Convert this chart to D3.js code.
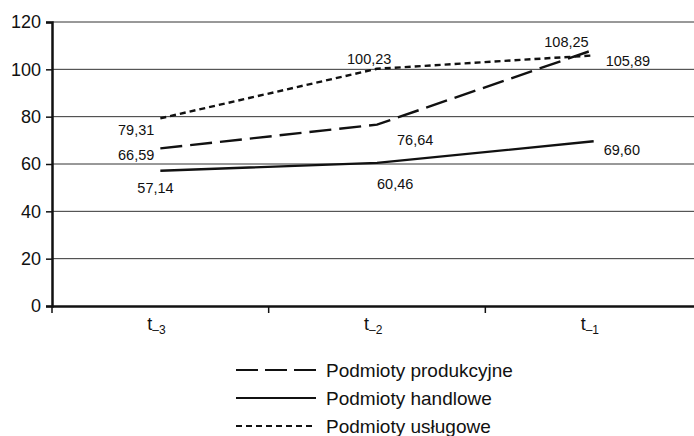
<!DOCTYPE html>
<html>
<head>
<meta charset="utf-8">
<script src="https://cdn.jsdelivr.net/npm/d3@7"></script>
<style>
  body { margin: 0; background: #fff; }
  text { font-family: "Liberation Sans", Arial, sans-serif; fill: #111; }
</style>
</head>
<body>
<svg id="chart" width="694" height="436"></svg>
<script>
// Data
var periods = ["-3", "-2", "-1"],
produkcyjne = [66.59, 76.64, 108.25],
handlowe = [57.14, 60.46, 69.60],
uslugowe = [79.31, 100.23, 105.89],
yTicks = [0, 20, 40, 60, 80, 100, 120],
seriesNames = ["Podmioty produkcyjne", "Podmioty handlowe", "Podmioty usługowe"];

// Layout (window.top is reserved, so plot* names)
var svg = d3.select("#chart"),
plotLeft = 52, plotRight = 702, plotTop = 22, plotBottom = 306;

var x = d3.scaleBand().domain(periods).range([plotLeft, plotRight]);
var y = d3.scaleLinear().domain([0, 120]).range([plotBottom, plotTop]);

var series = [
  {name: seriesNames[0], values: produkcyjne, dash: "22,8"},
  {name: seriesNames[1], values: handlowe, dash: null},
  {name: seriesNames[2], values: uslugowe, dash: "6,4"}
];

// label offsets (dx, dy, anchor) for each series / point
var labelPos = [
  [[-6, 8, "end"], [20, 17, "start"], [-5, -7, "end"]],
  [[-23, 18, "start"], [0, 22, "start"], [10, 10, "start"]],
  [[-6, 13, "end"], [-30, -9, "start"], [12, 7, "start"]]
];

// gridlines
svg.append("g").selectAll("line")
  .data(yTicks.filter(function(d){ return d > 0; }))
  .enter().append("line")
  .attr("x1", plotLeft).attr("x2", 694)
  .attr("y1", function(d){ return y(d); })
  .attr("y2", function(d){ return y(d); })
  .attr("stroke", "#333").attr("stroke-width", 1);

// y axis
var yAxis = svg.append("g")
  .attr("transform", "translate(" + plotLeft + ",0)")
  .call(d3.axisLeft(y).tickValues(yTicks).tickSize(6).tickPadding(5));
yAxis.select(".domain").attr("stroke", "#111").attr("stroke-width", 2.5);
yAxis.selectAll(".tick line").attr("stroke", "#111").attr("stroke-width", 1.5);
yAxis.selectAll(".tick text").style("font-size", "18px")
  .style("font-family", "Liberation Sans, Arial, sans-serif").attr("fill", "#111");

// x axis
var xAxis = svg.append("g")
  .attr("transform", "translate(0," + plotBottom + ")")
  .call(d3.axisBottom(x).tickSize(0).tickFormat(""));
xAxis.select(".domain").attr("stroke", "#111").attr("stroke-width", 2.5);
// tick marks at band borders
svg.append("g").selectAll("line")
  .data(periods)
  .enter().append("line")
  .attr("x1", function(d){ return x(d); })
  .attr("x2", function(d){ return x(d); })
  .attr("y1", plotBottom).attr("y2", plotBottom + 7)
  .attr("stroke", "#111").attr("stroke-width", 1.5);

// category labels t with subscript
var catLabels = svg.append("g").selectAll("text")
  .data(periods)
  .enter().append("text")
  .attr("x", function(d){ return x(d) + x.bandwidth()/2 - 13; })
  .attr("y", plotBottom + 24)
  .style("font-size", "18px");
catLabels.append("tspan").text("t");
catLabels.append("tspan")
  .attr("dy", 4)
  .style("font-size", "12px")
  .text(function(d){ return d.replace("-", "\u2013"); });

// lines
var line = d3.line()
  .x(function(d, i){ return x(periods[i]) + x.bandwidth()/2; })
  .y(function(d){ return y(d); });

svg.append("g").selectAll("path")
  .data(series)
  .enter().append("path")
  .attr("d", function(d){ return line(d.values); })
  .attr("fill", "none")
  .attr("stroke", "#111")
  .attr("stroke-width", 2.4)
  .attr("stroke-dasharray", function(d){ return d.dash; });

// value labels
series.forEach(function(s, si){
  svg.append("g").selectAll("text")
    .data(s.values)
    .enter().append("text")
    .attr("x", function(d, i){ return x(periods[i]) + x.bandwidth()/2 + labelPos[si][i][0]; })
    .attr("y", function(d, i){ return y(d) + labelPos[si][i][1]; })
    .attr("text-anchor", function(d, i){ return labelPos[si][i][2]; })
    .attr("dominant-baseline", "middle")
    .style("font-size", "14.5px")
    .text(function(d){ return d.toFixed(2).replace(".", ","); });
});

// legend
var legend = svg.append("g").selectAll("g")
  .data(series)
  .enter().append("g")
  .attr("transform", function(d, i){ return "translate(236," + (370 + i*28) + ")"; });
legend.append("line")
  .attr("x1", 0).attr("x2", 80)
  .attr("stroke", "#111").attr("stroke-width", 2)
  .attr("stroke-dasharray", function(d, i){ return i === 0 ? "22,7" : (i === 2 ? "6,4" : null); });
legend.append("text")
  .attr("x", 90).attr("dy", "0.35em")
  .style("font-size", "19px")
  .text(function(d){ return d.name; });
</script>
</body>
</html>
